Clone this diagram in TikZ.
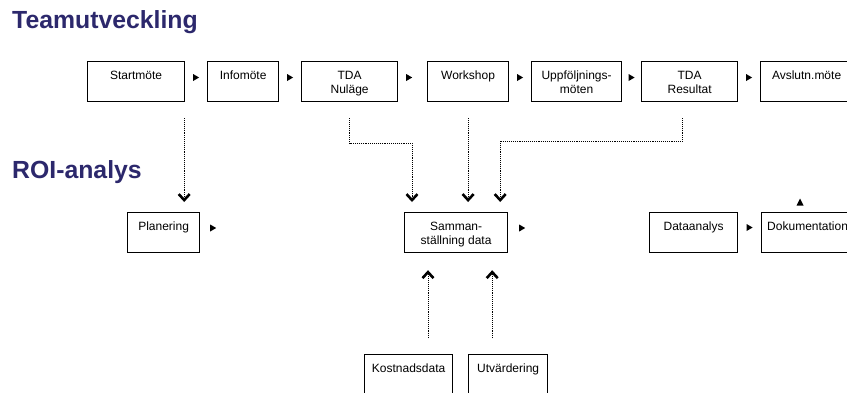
\documentclass[tikz,border=0pt]{standalone}
\usepackage{fontspec}
\setmainfont{Liberation Sans}
\usetikzlibrary{arrows.meta,calc}
\definecolor{titleblue}{RGB}{44,40,108}
\newcommand\mybox[5]{%
  \node[box, minimum width=#4pt] (#1) at (#2,#3) {};
  \node[boxtxt] (#1t) at ($(#1.north)+(0,9)$) {\rule{0pt}{9pt}#5};}
\newcommand\trright[1]{\fill #1 +(-3,-3.5) -- +(3,0) -- +(-3,3.5) -- cycle;}
\newcommand\trup[1]{\fill #1 +(-3.5,3.5) -- +(0,-3.5) -- +(3.5,3.5) -- cycle;}
\begin{document}
\begin{tikzpicture}[x=1pt,y=-1pt,
  box/.style={draw=black, line width=1.2pt, minimum height=40pt, inner sep=0pt, anchor=north west},
  boxtxt/.style={anchor=north, inner sep=0pt, align=center,
    font=\fontsize{12}{14}\selectfont},
  titletxt/.style={anchor=base west, inner sep=0pt, text=titleblue,
    font=\fontsize{24.8}{28}\selectfont\bfseries},
  dotc/.style={densely dotted, line width=0.9pt,
    -{Straight Barb[length=6pt,width=11pt,line width=2.6pt]}}]
\useasboundingbox (0,0) rectangle (847,392);
\clip (0,0) rectangle (847,392);
\node[titletxt] (t1) at (12,28) {Teamutveckling};
\node[titletxt] (t2) at (12,178) {ROI-analys};
\mybox{s1}{87}{61}{97}{Startmöte}
\mybox{info}{207}{61}{71}{Infomöte}
\mybox{tda1}{301}{61}{96}{TDA\\Nuläge}
\mybox{ws}{427}{61}{81}{Workshop}
\mybox{upp}{531}{61}{90}{Uppföljnings-\\möten}
\mybox{tda2}{641}{61}{96}{TDA\\Resultat}
\mybox{avs}{760}{61}{92}{Avslutn.möte}
\mybox{plan}{127}{212}{72}{Planering}
\mybox{samm}{404}{212}{103}{Samman-\\ställning data}
\mybox{data}{649}{212}{88}{Dataanalys}
\mybox{dok}{761}{212}{92}{Dokumentation}
\mybox{kost}{364}{354}{88}{Kostnadsdata}
\mybox{utv}{468}{354}{79}{Utvärdering}
% small arrowheads
\trright{($(s1.north east)!.5!(info.north west)+(0,16.5)$)}
\trright{($(info.north east)!.5!(tda1.north west)+(0,16.5)$)}
\trright{($(tda1.north east)+(11,16.5)$)}
\trright{($(ws.north east)!.5!(upp.north west)+(0,16.5)$)}
\trright{($(upp.north east)!.5!(tda2.north west)+(0,16.5)$)}
\trright{($(tda2.north east)!.5!(avs.north west)+(0,16.5)$)}
\trright{($(plan.north east)+(13,16)$)}
\trright{($(samm.north east)+(14,16)$)}
\trright{($(data.north east)!.5!(dok.north west)+(0,15.5)$)}
\trup{($(dok.north west)+(39,-10)$)}
% dotted connectors
\draw[dotc] ($(s1.south east)+(-1,16)$) -- ($(s1.south east |- plan.north)+(-1,-10)$);
\draw[dotc] ($(tda1.south)+(0,16)$) -- ($(tda1.south)+(0,41)$) -| ($(samm.north west)+(8,-10)$);
\draw[dotc] ($(ws.south)+(0,16)$) -- ($(ws.south |- samm.north)+(0,-10)$);
\draw[dotc] ($(tda2.south)+(-7,16)$) -- ($(tda2.south)+(-7,39)$) -| ($(samm.north east)+(-8,-10)$);
\draw[dotc] ($(kost.north -| samm.south west)+(24,-16)$) -- ($(samm.south west)+(24,17)$);
\draw[dotc] ($(utv.north -| samm.south east)+(-16,-16)$) -- ($(samm.south east)+(-16,17)$);
\end{tikzpicture}
\end{document}
